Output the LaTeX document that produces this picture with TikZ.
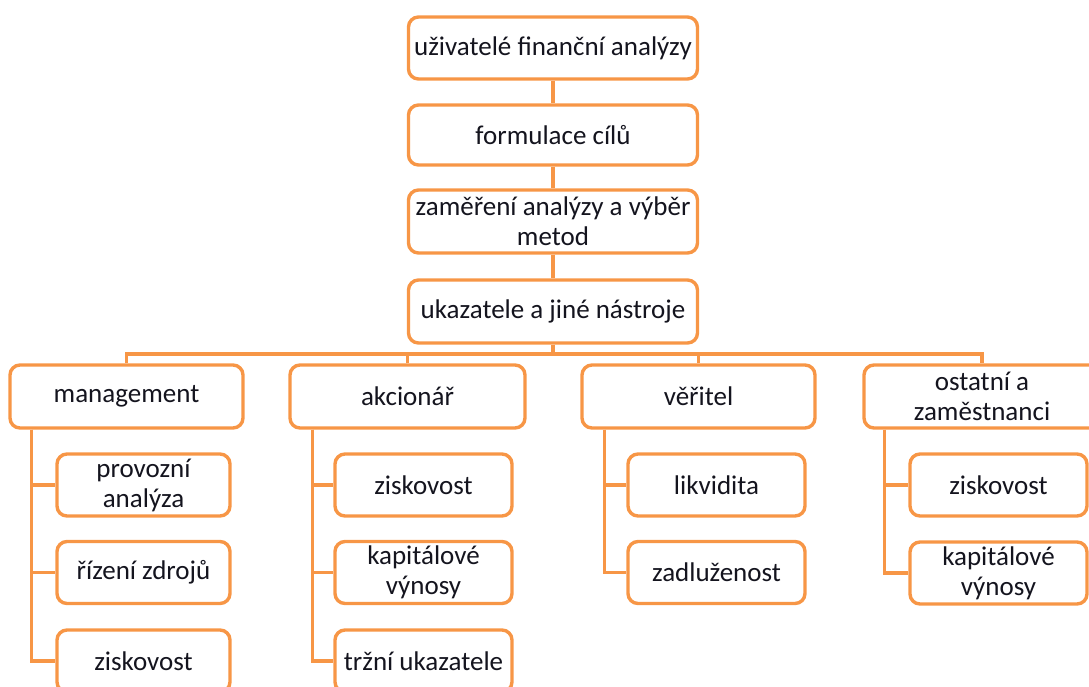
\documentclass[tikz,border=0pt]{standalone}
\usepackage{fontspec}
\setmainfont{Carlito}
\definecolor{org}{RGB}{247,150,70}
\definecolor{txt}{RGB}{20,20,30}
\begin{document}
\begin{tikzpicture}[x=1pt,y=-1pt,
  box/.style={draw=org, line width=3.4pt, fill=white, rounded corners=10pt,
    inner sep=0pt, align=center, text=txt,
    font=\fontsize{27}{30}\selectfont},
  lvl/.style={box, minimum width=#1, minimum height=62pt},
  conn/.style={draw=org, line width=3.4pt}]
\useasboundingbox (0,0) rectangle (1089,686);
\clip (0,0) rectangle (1089,686);
% top chain
\node[lvl=289] (u1) at (553,48) {uživatelé finanční analýzy};
\node[lvl=289, minimum height=60pt] (u2) at (553,135) {formulace cílů};
\node[lvl=289, minimum height=63pt] (u3) at (553,221.5) {zaměření analýzy a výběr\\metod};
\node[lvl=289, minimum height=63pt] (u4) at (553,311.5) {ukazatele a jiné nástroje};
% level 2
\node[lvl=233, minimum height=63pt] (mg) at (126.5,396.5) {management};
\node[lvl=235, minimum height=63pt] (ak) at (407.5,396.5) {akcionář};
\node[lvl=233, minimum height=63pt] (ve) at (698.5,396.5) {věřitel};
\node[lvl=236, minimum height=63pt] (os) at (982,396.5) {ostatní a\\zaměstnanci};
% bus
\coordinate (bus) at (553,354);
\draw[conn] (u1.south) -- (u2.north);
\draw[conn] (u2.south) -- (u3.north);
\draw[conn] (u3.south) -- (u4.north);
\draw[conn] (u4.south) -- (bus);
\draw[conn] (mg.north) |- (bus) -| (os.north);
\draw[conn] (ak.north) -- (ak.north |- bus);
\draw[conn] (ve.north) -- (ve.north |- bus);
% children
\node[lvl=173] (m1) at (143.5,485) {provozní\\analýza};
\node[lvl=173] (m2) at (143.5,572.5) {řízení zdrojů};
\node[lvl=173] (m3) at (143.5,661) {ziskovost};
\node[lvl=177] (a1) at (423.5,485) {ziskovost};
\node[lvl=177] (a2) at (423.5,572.5) {kapitálové\\výnosy};
\node[lvl=177] (a3) at (423.5,661) {tržní ukazatele};
\node[lvl=177] (v1) at (716.5,485) {likvidita};
\node[lvl=177] (v2) at (716.5,572.5) {zadluženost};
\node[lvl=177] (o1) at (998.5,485) {ziskovost};
\node[lvl=177] (o2) at (998.5,573) {kapitálové\\výnosy};
% child connectors
\coordinate (mgs) at ([xshift=23pt]mg.south west);
\coordinate (aks) at ([xshift=24pt]ak.south west);
\coordinate (ves) at ([xshift=24pt]ve.south west);
\coordinate (oss) at ([xshift=22pt]os.south west);
\draw[conn] (mgs) |- (m3.west);
\draw[conn] (mgs) |- (m2.west);
\draw[conn] (mgs) |- (m1.west);
\draw[conn] (aks) |- (a3.west);
\draw[conn] (aks) |- (a2.west);
\draw[conn] (aks) |- (a1.west);
\draw[conn] (ves) |- (v2.west);
\draw[conn] (ves) |- (v1.west);
\draw[conn] (oss) |- (o2.west);
\draw[conn] (oss) |- (o1.west);
\end{tikzpicture}
\end{document}
